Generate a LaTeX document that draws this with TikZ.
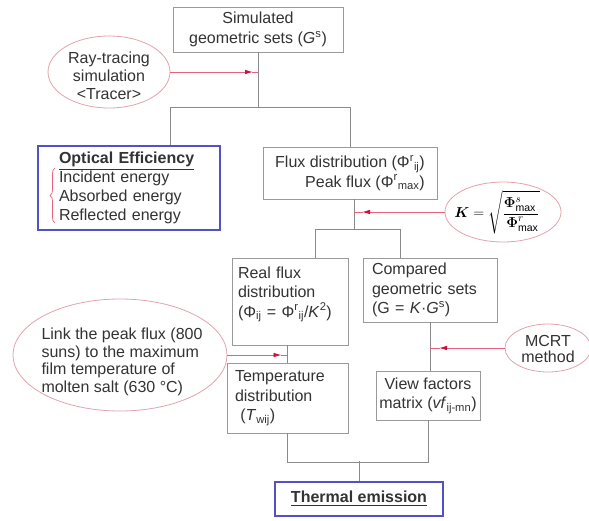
\documentclass[tikz,border=0pt]{standalone}
\usepackage{fontspec}
\usepackage{amsmath}
\setmainfont{Liberation Sans}
\usetikzlibrary{arrows.meta,shapes.geometric,calc,decorations.pathreplacing}
\definecolor{gline}{HTML}{8A8A8A}
\definecolor{bbox}{HTML}{9A9A9A}
\definecolor{blu}{HTML}{5252C8}
\definecolor{pinkb}{HTML}{E3A3AD}
\definecolor{redl}{HTML}{E8607A}
\definecolor{redt}{HTML}{D0103A}
\definecolor{txtc}{HTML}{333333}
\newcommand{\sps}[1]{\textsuperscript{#1}}
\newcommand{\sbs}[1]{\textsubscript{#1}}
\begin{document}
\begin{tikzpicture}[x=1pt,y=-1pt,
  box/.style={draw=bbox, line width=0.8pt, inner sep=0pt, text=txtc, font=\fontsize{16}{19.5}\selectfont},
  bluebox/.style={draw=blu, line width=1.6pt, inner sep=0pt, text=txtc, font=\fontsize{16}{19}\selectfont},
  ell/.style={ellipse, draw=pinkb, line width=0.8pt, inner sep=0pt},
  etxt/.style={inner sep=0pt, text=txtc, font=\fontsize{16}{17.5}\selectfont},
  conn/.style={draw=gline, line width=0.9pt},
  redline/.style={draw=redl, line width=0.8pt},
  redarrow/.style={draw=redl, line width=0.8pt, -{Latex[length=8pt,width=4.5pt,color=redt]}}
]
\useasboundingbox[fill=white] (0,0) rectangle (589,520);

% top box and ray-tracing ellipse
\node[box, minimum width=170, minimum height=45, align=center] (sim) at (258,29.5) {Simulated\\geometric sets (\textit{G}\sps{s})};
\node[ell, minimum width=122, minimum height=72] (ray) at (109,72) {};
\node[etxt, align=center, font=\fontsize{16}{18}\selectfont] (rayt) at (109,76) {Ray-tracing\\simulation\\<Tracer>};

\coordinate (j1) at (258,108);
\draw[conn] (sim.south) -- (j1);
\coordinate (a1) at (258,72);
\draw[redarrow] (ray.east) -- ($(a1)+(-5,0)$);
\draw[redline] ($(a1)+(-6,0)$) -- (a1);

% optical efficiency
\node[bluebox, minimum width=182, minimum height=84, text width=140, inner xsep=21, align=left] (opt) at (129,188)
  {\underline{\textbf{Optical Efficiency}}\\Incident energy\\Absorbed energy\\Reflected energy};
\draw[redl, line width=0.7pt, decorate, decoration={brace, amplitude=5pt}] (55,223) -- (55,168);

% flux box
\node[box, minimum width=174, minimum height=52, align=right] (flux) at (350,173)
  {Flux distribution (Φ\sps{r}\sbs{ij})\\Peak flux (Φ\sps{r}\sbs{max})};

\draw[conn] ($(opt.north)+(41,0)$) -- ++(0,-38) -| (flux.north);

% K ellipse
\node[ell, minimum width=116, minimum height=60] (K) at (503,212) {};
\node[etxt, font=\fontsize{15}{17}\selectfont, text=black] (Kt) at (497,212)
  {$\displaystyle \boldsymbol{K}=\sqrt{\frac{\rule{0pt}{12pt}\boldsymbol{\Phi}^{s}_{\mathrm{max}}\,}{\,\boldsymbol{\Phi}^{r}_{\mathrm{max}}\rule[-4pt]{0pt}{4pt}}}$};

\coordinate (kx) at (354,212);
\draw[conn] ($(flux.south)+(4,0)$) -- ++(0,31) coordinate (j2);
\draw[redarrow] (K.west) -- ($(kx)+(8,0)$);
\draw[redline] ($(kx)+(9,0)$) -- (kx);

% real flux and compared sets
\node[box, minimum width=116, minimum height=87, text width=104, inner xsep=6, align=left] (real) at (290,301.5)
  {Real flux\\distribution\\(Φ\sbs{ij} = Φ\sps{r}\sbs{ij}/\textit{K}\sps{2})\\\mbox{}};
\node[box, minimum width=134, minimum height=64, text width=116, inner xsep=9, align=left] (cmp) at (430,290)
  {Compared\\geometric sets\\(G = \textit{K}·\textit{G}\sps{s})};

\draw[conn] ($(real.north)+(25,0)$) -- ++(0,-28) -| ($(cmp.north)+(-30,0)$);

% temperature and view factors
\node[box, minimum width=121, minimum height=70, text width=105, inner xsep=8, align=left] (temp) at (287.5,398)
  {Temperature\\distribution\\\ (\textit{T}\sbs{wij})};
\node[box, minimum width=104, minimum height=49, align=center] (view) at (428,395.5)
  {View factors\\matrix (\textit{vf}\sbs{ij-mn})};

\draw[conn] (temp.north) -- (temp.north |- real.south);
\draw[conn] (cmp.south) -- (cmp.south |- view.north);

% left link ellipse
\node[ell, minimum width=214, minimum height=112] (link) at (120,355) {};
\node[etxt, align=left] (linkt) at (122,362)
  {Link the peak flux (800\\suns) to the maximum\\film temperature of\\molten salt (630 °C)};
\draw[redarrow] (link.east) -- ($(temp.north |- link.east)+(-6,0)$);
\draw[redline] ($(temp.north |- link.east)+(-7,0)$) -- (temp.north |- link.east);

% MCRT ellipse
\node[ell, minimum width=86, minimum height=48] (mcrt) at (548,348) {};
\node[etxt, align=center, font=\fontsize{16}{16}\selectfont] (mcrtt) at (548,349) {MCRT\\method};
\draw[redarrow] (mcrt.west) -- ($(cmp.south |- mcrt.west)+(9,0)$);
\draw[redline] ($(cmp.south |- mcrt.west)+(10,0)$) -- (cmp.south |- mcrt.west);

% thermal emission
\node[bluebox, minimum width=168, minimum height=34] (therm) at (359,499) {\underline{\textbf{Thermal emission}}};
\draw[conn] (temp.south) -- ++(0,29) -| (view.south);
\draw[conn] (therm.north) -- ++(0,-20);
\end{tikzpicture}
\end{document}
